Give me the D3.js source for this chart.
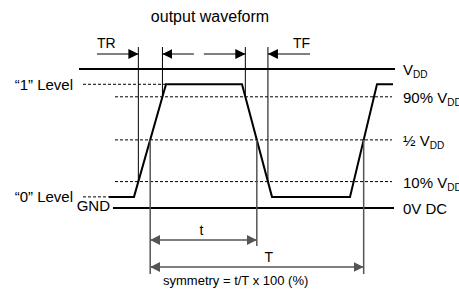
<!DOCTYPE html>
<html>
<head>
<meta charset="utf-8">
<script src="https://cdn.jsdelivr.net/npm/d3@7"></script>
<style>
  body { margin: 0; background: #fff; }
  svg { display: block; }
  text { font-family: Arial, "Liberation Sans", sans-serif; fill: #000; }
</style>
</head>
<body>
<svg id="chart"></svg>
<script>
// levels in diagram units (GND = 0, VDD = 10)
const levelNames = ["vdd", "high", "p90", "p50", "p10", "low", "gnd"];
const levelValues = [10, 8.9, 8.0, 4.9, 1.9, 0.8, 0];
// waveform corners, time in diagram units
const waveTimes = [2.6, 5.1, 8.3, 15.9, 18.9, 26.7, 29.4, 31.0];
const waveLevels = ["low", "low", "high", "high", "low", "low", "high", "high"];
// left / right labels
const leftLabels = ["\u201C1\u201D Level", "\u201C0\u201D Level", "GND"];
const leftLevels = ["high", "low", "gnd"];
const rightMain = ["V", "90% V", "\u00BD V", "10% V", "0V DC"];
const rightSub = ["DD", "DD", "DD", "DD", ""];
const rightLevels = ["vdd", "p90", "p50", "p10", "gnd"];

const w = 459, h = 289;
const lv = {};
levelNames.forEach((n, i) => lv[n] = levelValues[i]);

const x = d3.scaleLinear().domain([0, 31]).range([83, 393]);
const y = d3.scaleLinear().domain([0, 10]).range([208, 69]);

const svg = d3.select("#chart").attr("width", w).attr("height", h);

const defs = svg.append("defs");
[["arrBlack", "#000"], ["arrGrey", "#555"]].forEach(([id, c]) => {
    defs.append("marker")
        .attr("id", id)
        .attr("markerUnits", "userSpaceOnUse")
        .attr("markerWidth", 10).attr("markerHeight", 10)
        .attr("refX", 10).attr("refY", 5)
        .attr("orient", "auto-start-reverse")
        .append("path")
        .attr("d", "M0,0 L10,5 L0,10 Z")
        .attr("fill", c);
});

const pts = waveTimes.map((t, i) => [t, lv[waveLevels[i]]]);

// time where the edge starting at corner i crosses a level
function cross(i, level) {
    const a = pts[i], b = pts[i + 1];
    return a[0] + (b[0] - a[0]) * (level - a[1]) / (b[1] - a[1]);
}
const rise10 = cross(1, lv.p10), rise90 = cross(1, lv.p90), rise50 = cross(1, lv.p50);
const fall90 = cross(3, lv.p90), fall10 = cross(3, lv.p10), fall50 = cross(3, lv.p50);
const rise2_50 = cross(5, lv.p50);

// title
svg.append("text")
    .attr("x", 210).attr("y", 22)
    .attr("text-anchor", "middle")
    .attr("font-size", "16px")
    .text("output waveform");

// supply rails
svg.append("line")
    .attr("x1", x(-0.4)).attr("x2", x(31.2))
    .attr("y1", y(lv.vdd)).attr("y2", y(lv.vdd))
    .attr("stroke", "#000").attr("stroke-width", 2);
svg.append("line")
    .attr("x1", x(3.0)).attr("x2", x(31.1))
    .attr("y1", y(lv.gnd)).attr("y2", y(lv.gnd))
    .attr("stroke", "#000").attr("stroke-width", 2);

// dashed reference levels
const dashed = svg.append("g")
    .attr("stroke", "#000").attr("stroke-width", 1)
    .attr("stroke-dasharray", "3,2");
["p90", "p50", "p10"].forEach(n => {
    dashed.append("line")
        .attr("x1", x(3.2)).attr("x2", x(30.9))
        .attr("y1", y(lv[n])).attr("y2", y(lv[n]));
});
dashed.append("line")
    .attr("x1", x(0)).attr("x2", x(pts[2][0]))
    .attr("y1", y(lv.high)).attr("y2", y(lv.high));
dashed.append("line")
    .attr("x1", x(0)).attr("x2", x(pts[0][0]))
    .attr("y1", y(lv.low)).attr("y2", y(lv.low));

// waveform
svg.append("path")
    .datum(pts)
    .attr("d", d3.line().x(d => x(d[0])).y(d => y(d[1])))
    .attr("fill", "none")
    .attr("stroke", "#000")
    .attr("stroke-width", 2);

// top timing marks (TR / TF)
const topY = 47, arrY = 54;
const topMarks = svg.append("g").attr("stroke", "#000").attr("stroke-width", 1);
[[rise10, lv.p10], [rise90, lv.p90], [fall90, lv.p90], [fall10, lv.p10]].forEach(([t, l]) => {
    topMarks.append("line")
        .attr("x1", x(t)).attr("x2", x(t))
        .attr("y1", topY).attr("y2", y(l));
});
const mid = (x(rise90) + x(fall90)) / 2;
const topArrows = [
    [97, x(rise10), null, "arrBlack"],
    [x(rise90), mid - 10, "arrBlack", null],
    [mid, x(fall90), null, "arrBlack"],
    [x(fall10), 310, "arrBlack", null]
];
topArrows.forEach(([a, b, ms, me]) => {
    const l = topMarks.append("line")
        .attr("x1", a).attr("x2", b)
        .attr("y1", arrY).attr("y2", arrY);
    if (ms) l.attr("marker-start", `url(#${ms})`);
    if (me) l.attr("marker-end", `url(#${me})`);
});
svg.append("text").attr("x", 97).attr("y", 48).attr("font-size", "14px").text("TR");
svg.append("text").attr("x", 310).attr("y", 48).attr("text-anchor", "end")
    .attr("font-size", "14px").text("TF");

// bottom timing marks (t / T)
const tY = 240, bigTY = 267;
const bot = svg.append("g").attr("stroke", "#555").attr("stroke-width", 1.5);
[[rise50, 274], [fall50, 246], [rise2_50, 274]].forEach(([t, yb]) => {
    bot.append("line")
        .attr("x1", x(t)).attr("x2", x(t))
        .attr("y1", y(lv.p50)).attr("y2", yb);
});
[[rise50, fall50, tY], [rise50, rise2_50, bigTY]].forEach(([a, b, yy]) => {
    bot.append("line")
        .attr("x1", x(a)).attr("x2", x(b))
        .attr("y1", yy).attr("y2", yy)
        .attr("marker-start", "url(#arrGrey)")
        .attr("marker-end", "url(#arrGrey)");
});
svg.append("text").attr("x", (x(rise50) + x(fall50)) / 2 - 2).attr("y", tY - 5)
    .attr("text-anchor", "middle").attr("font-size", "14px").text("t");
svg.append("text").attr("x", x(fall50) + 12).attr("y", bigTY - 5)
    .attr("text-anchor", "middle").attr("font-size", "14px").text("T");
svg.append("text").attr("x", 163).attr("y", 285)
    .attr("font-size", "13px").text("symmetry = t/T x 100 (%)");

// left labels
svg.selectAll("text.left")
    .data(leftLabels)
    .enter()
    .append("text")
    .attr("class", "left")
    .attr("x", (d, i) => i === 2 ? 110 : 73)
    .attr("y", (d, i) => y(lv[leftLevels[i]]) + (i === 2 ? -2 : 0))
    .attr("dy", "0.35em")
    .attr("text-anchor", "end")
    .attr("font-size", "15px")
    .text(d => d);

// right labels
const rt = svg.selectAll("text.right")
    .data(rightMain)
    .enter()
    .append("text")
    .attr("class", "right")
    .attr("x", 403)
    .attr("y", (d, i) => y(lv[rightLevels[i]]) + 1)
    .attr("dy", "0.35em")
    .attr("font-size", "15px");
rt.append("tspan").text(d => d);
rt.append("tspan")
    .attr("font-size", "10px")
    .attr("dy", 3)
    .text((d, i) => rightSub[i]);
</script>
</body>
</html>
